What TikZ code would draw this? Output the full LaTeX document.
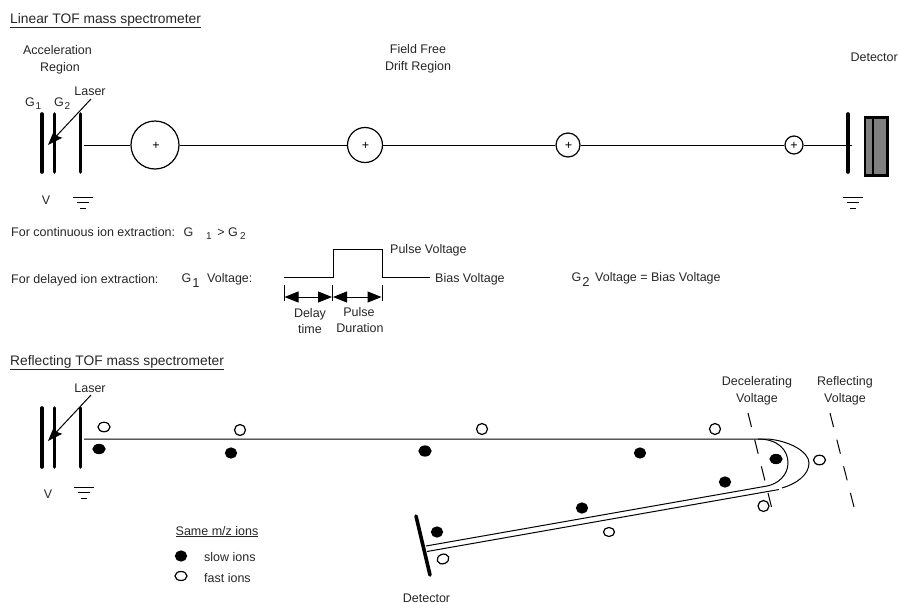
\documentclass[tikz,border=0pt]{standalone}
\usepackage{fontspec}
\setmainfont{Liberation Sans}
\usetikzlibrary{arrows.meta,shapes.geometric}
\tikzset{
  x=1pt,y=-1pt,
  lbl/.style={inner sep=0pt,font=\fontsize{12.5}{14}\selectfont,text height=10.6pt,text depth=2.5pt,text=black!85},
  title/.style={inner sep=0pt,anchor=west,font=\fontsize{13.8}{16}\selectfont,text height=11.6pt,text depth=3pt,text=black!85},
  subs/.style={inner sep=0pt,font=\fontsize{10}{12}\selectfont,text=black!85},
  plus/.style={inner sep=0pt,font=\fontsize{12.5}{14}\selectfont,text=black},
  bar/.style={line width=3.6pt,line cap=round},
  wire/.style={line width=1pt},
  ioncirc/.style={circle,draw,line width=1.2pt,fill=white,inner sep=0pt},
  openion/.style={ellipse,draw,line width=1.2pt,fill=white,inner sep=0pt,minimum width=12pt,minimum height=9.5pt},
  slowion/.style={ellipse,draw,line width=1.2pt,fill=black,inner sep=0pt,minimum width=11pt,minimum height=10pt},
  laserarrow/.style={line width=1pt,-{Stealth[length=15pt,width=11pt,inset=2.5pt]}},
  span/.style={line width=1pt,{Triangle[length=14pt,width=11pt]}-{Triangle[length=14pt,width=11pt]},shorten <=0.5pt,shorten >=0.5pt},
  dashline/.style={line width=1pt,dash pattern=on 14.5pt off 13pt},
}
\newcommand{\groundsym}[2]{%
  \draw[wire] (#1-10,#2) -- (#1+10,#2);
  \draw[wire] (#1-6,#2+5.5) -- (#1+6,#2+5.5);
  \draw[wire] (#1-3,#2+11) -- (#1+3,#2+11);
}
\begin{document}
\begin{tikzpicture}
\useasboundingbox (0,0) rectangle (898,603);
% Titles
\node[title] (t1) at (10,19) {\underline{Linear TOF mass spectrometer}};
\node[title] (t2) at (10,361) {\underline{Reflecting TOF mass spectrometer}};
% Linear top labels
\node[lbl] (acc) at (57.5,50) {Acceleration};
\node[lbl] (reg) at (60,67) {Region};
\node[lbl] (ffree) at (418,49) {Field Free};
\node[lbl] (drift) at (418,66) {Drift Region};
\node[lbl,anchor=east] (detl) at (898,57) {Detector};
\node[lbl] (las1) at (90,91) {Laser};
\node[lbl] (g1a) at (30,102) {G};
\node[subs] (g1as) at (38.5,106) {1};
\node[lbl] (g2a) at (59,102) {G};
\node[subs] (g2as) at (67.5,106) {2};
\node[lbl] (v1) at (46,200) {V};
% Linear plates
\coordinate (a1) at (42,114); \coordinate (a2) at (42,172);
\coordinate (b1) at (54.5,114); \coordinate (b2) at (54.5,172);
\coordinate (c1) at (80.5,114); \coordinate (c2) at (80.5,172);
\draw[bar] (a1) -- (a2);
\draw[bar] (b1) -- (b2);
\draw[bar] (c1) -- (c2);
\coordinate (ls) at (91,99); \coordinate (lt) at (48,145);
\draw[laserarrow] (ls) -- (lt);
% Ions along the drift line
\coordinate (ws) at (84,145);
\node[ioncirc,minimum size=48pt] (i1) at (155,145) {};
\node[ioncirc,minimum size=35pt] (i2) at (365,145) {};
\node[ioncirc,minimum size=24pt] (i3) at (568,145) {};
\node[ioncirc,minimum size=18pt] (i4) at (794,145) {};
\coordinate (we) at (851.5,145);
\draw[wire] (ws) -- (i1) (i1) -- (i2) (i2) -- (i3) (i3) -- (i4) (i4) -- (we);
\node[plus] at (156,146) {+};
\node[plus] at (365.5,146) {+};
\node[plus] at (568.5,146) {+};
\node[plus] at (794,146) {+};
% Detector
\coordinate (d1) at (848,114); \coordinate (d2) at (848,172);
\draw[bar] (d1) -- (d2);
\node[draw,line width=2.5pt,fill=black!50,minimum width=22.5pt,minimum height=58pt,inner sep=0pt,anchor=north west] (detbox) at (863.5,116) {};
\draw[line width=2.5pt] (detbox.north west) ++(9.5,0) coordinate (dv1) -- (dv1 |- detbox.south);
\groundsym{83}{197}
\groundsym{853}{197}
% Extraction text
\node[lbl,anchor=west] (cont) at (11,232) {For continuous ion extraction:};
\node[lbl] (g1b) at (188.5,232) {G};
\node[subs] (g1bs) at (209,236) {1};
\node[lbl] (gt) at (221,232) {>};
\node[lbl] (g2b) at (233,232) {G};
\node[subs] (g2bs) at (243,236) {2};
\node[lbl,anchor=west] (del) at (11,279) {For delayed ion extraction:};
\node[lbl] (g1c) at (186.5,278) {G};
\node[subs,font=\fontsize{13}{15}\selectfont] (g1cs) at (196,283) {1};
\node[lbl,anchor=west] (volt) at (207,278) {Voltage:};
% Pulse
\coordinate (p0) at (284,277); \coordinate (p1) at (333,277); \coordinate (p2) at (333,249);
\coordinate (p3) at (382,249); \coordinate (p4) at (382,277); \coordinate (p5) at (430,277);
\draw[wire] (p0) -- (p1) -- (p2) -- (p3) -- (p4) -- (p5);
\coordinate (q1) at (284,297); \coordinate (q2) at (332.5,297); \coordinate (q3) at (382,297);
\draw[wire] (284,285) -- (284,301);
\draw[wire] (332.5,285) -- (332.5,301);
\draw[wire] (382,285) -- (382,301);
\draw[span] (q1) -- (q2);
\draw[span] (q2) -- (q3);
\node[lbl,anchor=west] (pv) at (390,249) {Pulse Voltage};
\node[lbl,anchor=west] (bv) at (435,278) {Bias Voltage};
\node[lbl] (delay) at (310,313) {Delay};
\node[lbl] (dtime) at (310,329) {time};
\node[lbl] (pulse) at (359,312) {Pulse};
\node[lbl] (dur) at (360,328) {Duration};
\node[lbl] (g2c) at (576.5,277) {G};
\node[subs,font=\fontsize{13}{15}\selectfont] (g2cs) at (586,282) {2};
\node[lbl,anchor=west] (g2v) at (595,277) {Voltage = Bias Voltage};
% Reflecting plates
\coordinate (ra1) at (42,408); \coordinate (ra2) at (42,467);
\coordinate (rb1) at (54.5,408); \coordinate (rb2) at (54.5,467);
\coordinate (rc1) at (80.5,408); \coordinate (rc2) at (80.5,467);
\draw[bar] (ra1) -- (ra2);
\draw[bar] (rb1) -- (rb2);
\draw[bar] (rc1) -- (rc2);
\node[lbl] (las2) at (90,388) {Laser};
\coordinate (rls) at (91,395); \coordinate (rlt) at (48,441);
\draw[laserarrow] (rls) -- (rlt);
\node[lbl] (v2) at (48,494) {V};
\groundsym{84}{487}
% Flight path
\coordinate (f0) at (84,439); \coordinate (f1) at (758,439);
\coordinate (f2) at (767,486); \coordinate (f3) at (426,546);
\coordinate (f4) at (768,439); \coordinate (f5) at (782,488);
\coordinate (f6) at (779,489.5); \coordinate (f7) at (427,551.5);
\draw[wire] (f0) -- (f1) .. controls (778,439) and (788,450) .. (788,463) .. controls (788,475) and (778,484) .. (f2) -- (f3);
\draw[wire] (f1) -- (f4) .. controls (790,441) and (809,452) .. (809,463) .. controls (809,475) and (796,484) .. (f5);
\draw[wire] (f6) -- (f7);
\coordinate (dc1) at (748,413); \coordinate (dc2) at (771.5,507);
\coordinate (rf1) at (830,413); \coordinate (rf2) at (854,507);
\draw[dashline] (dc1) -- (dc2);
\draw[dashline] (rf1) -- (rf2);
\node[lbl] (dec1) at (757,381) {Decelerating};
\node[lbl] (dec2) at (757,398) {Voltage};
\node[lbl] (ref1) at (845,381) {Reflecting};
\node[lbl] (ref2) at (845,398) {Voltage};
% Detector bar
\coordinate (rd1) at (416,516); \coordinate (rd2) at (430,575);
\draw[bar] (rd1) -- (rd2);
\node[lbl] (rdl) at (426.5,598) {Detector};
% Ions
\node[openion] (o1) at (104,427) {};
\node[openion,minimum width=11pt,minimum height=11pt] (o2) at (240,430) {};
\node[openion,minimum width=11pt,minimum height=11pt] (o3) at (482,429) {};
\node[openion,minimum width=11pt,minimum height=11pt] (o4) at (715,429) {};
\node[openion] (o5) at (819.5,460) {};
\node[openion,minimum width=11pt,minimum height=11pt] (o6) at (763.5,506) {};
\node[openion,minimum width=11pt,minimum height=9pt] (o7) at (609,532) {};
\node[openion,rotate=20] (o8) at (443,559) {};
\node[slowion,minimum width=12pt,minimum height=9pt] (s1) at (99,449) {};
\node[slowion] (s2) at (231,453) {};
\node[slowion,minimum width=12pt] (s3) at (425,451) {};
\node[slowion] (s4) at (640,453) {};
\node[slowion,minimum width=12pt,minimum height=9pt] (s5) at (776,459) {};
\node[slowion] (s6) at (725,482) {};
\node[slowion] (s7) at (582,508) {};
\node[slowion] (s8) at (437,532) {};
% Legend
\node[lbl] (leg) at (217,531) {\underline{Same m/z ions}};
\node[slowion] (ls1) at (181,556) {};
\node[openion,minimum height=9pt] (lo1) at (181,576) {};
\node[lbl,anchor=west] (lslow) at (204,557) {slow ions};
\node[lbl,anchor=west] (lfast) at (204,578) {fast ions};
\end{tikzpicture}
\end{document}
